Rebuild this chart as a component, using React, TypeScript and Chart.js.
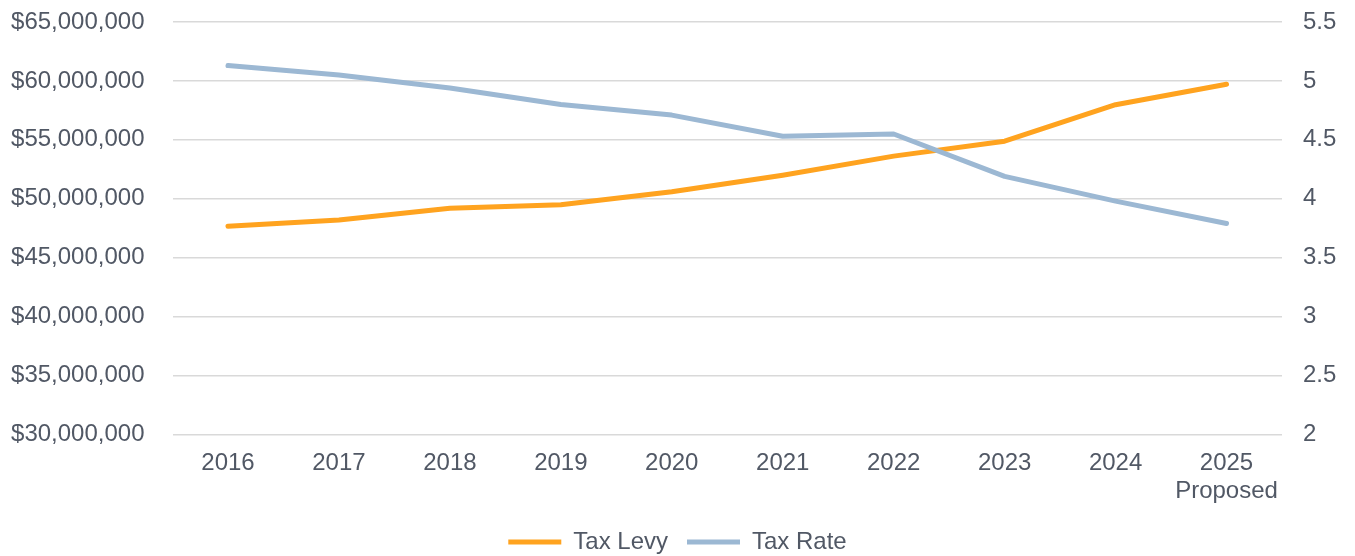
import React, { useEffect, useRef } from "react";
import { Chart, registerables } from "chart.js";

Chart.register(...registerables);

const categories: (string | string[])[] = [
  "2016", "2017", "2018", "2019", "2020", "2021", "2022", "2023", "2024", ["2025", "Proposed"],
];
const taxLevy: number[] = [
  47670000, 48200000, 49190000, 49500000, 50590000, 52000000, 53620000, 54890000, 57980000, 59720000,
];
const taxRate: number[] = [5.13, 5.05, 4.94, 4.8, 4.71, 4.53, 4.55, 4.19, 3.98, 3.79];

const levyMin = 30000000;
const levyMax = 65000000;
const levyStep = 5000000;
const rateMin = 2;
const rateMax = 5.5;
const rateStep = 0.5;

const FONT = "'Liberation Sans', Arial, sans-serif";
const TEXT = "#515865";
const ORANGE = "#FFA31F";
const BLUE = "#9CB8D3";
const GRID = "#D9D9D9";

export default function App() {
  const ref = useRef<HTMLCanvasElement | null>(null);

  useEffect(() => {
    if (!ref.current) return;
    const chart = new Chart(ref.current, {
      type: "line",
      data: {
        labels: categories,
        datasets: [
          {
            label: "Tax Levy",
            data: taxLevy,
            yAxisID: "y",
            borderColor: ORANGE,
            backgroundColor: ORANGE,
            borderWidth: 5,
            pointRadius: 0,
            tension: 0,
            borderCapStyle: "round",
            borderJoinStyle: "round",
            order: 1,
          },
          {
            label: "Tax Rate",
            data: taxRate,
            yAxisID: "y1",
            borderColor: BLUE,
            backgroundColor: BLUE,
            borderWidth: 5,
            pointRadius: 0,
            tension: 0,
            borderCapStyle: "round",
            borderJoinStyle: "round",
            order: 0,
          },
        ],
      },
      options: {
        animation: false,
        responsive: true,
        maintainAspectRatio: false,
        layout: { padding: { top: 22, left: 0, right: 0, bottom: -8 } },
        plugins: {
          tooltip: { enabled: false },
          legend: {
            position: "bottom",
            labels: {
              font: { family: FONT, size: 24 },
              color: TEXT,
              boxWidth: 53,
              boxHeight: 5,
              padding: 19,
              sort: (a: any, b: any) => a.datasetIndex - b.datasetIndex,
              generateLabels: (c: any) =>
                c.data.datasets.map((ds: any, i: number) => ({
                  text: ds.label,
                  fillStyle: ds.borderColor,
                  strokeStyle: ds.borderColor,
                  lineWidth: 0,
                  fontColor: TEXT,
                  hidden: false,
                  datasetIndex: i,
                })),
            },
          },
        },
        scales: {
          x: {
            offset: true,
            grid: { display: false, drawTicks: false },
            border: { display: false },
            ticks: {
              font: { family: FONT, size: 24, lineHeight: 1.15 },
              color: TEXT,
              padding: 15,
              maxRotation: 0,
              autoSkip: false,
            },
            afterFit: (s: any) => {
              s.height = 76.5;
              s.paddingLeft = 0;
              s.paddingRight = 0;
            },
          },
          y: {
            position: "left",
            min: levyMin,
            max: levyMax,
            grid: { color: GRID, lineWidth: 1.5, drawTicks: false },
            border: { display: false },
            ticks: {
              stepSize: levyStep,
              font: { family: FONT, size: 24 },
              color: TEXT,
              padding: 28,
              callback: (v: any) => "$" + Number(v).toLocaleString("en-US"),
            },
            afterFit: (s: any) => {
              s.width = 172.5;
              s.paddingTop = 0;
              s.paddingBottom = 0;
            },
          },
          y1: {
            position: "right",
            min: rateMin,
            max: rateMax,
            grid: { drawOnChartArea: false, drawTicks: false },
            border: { display: false },
            ticks: {
              stepSize: rateStep,
              font: { family: FONT, size: 24 },
              color: TEXT,
              padding: 21,
              callback: (v: any) => String(Number(v)),
            },
            afterFit: (s: any) => {
              s.width = 73;
              s.paddingTop = 0;
              s.paddingBottom = 0;
            },
          },
        },
      },
    });
    return () => chart.destroy();
  }, []);

  return (
    <div style={{ position: "absolute", left: 0, top: 0, width: 1355, height: 556, background: "#fff" }}>
      <canvas ref={ref} />
    </div>
  );
}
